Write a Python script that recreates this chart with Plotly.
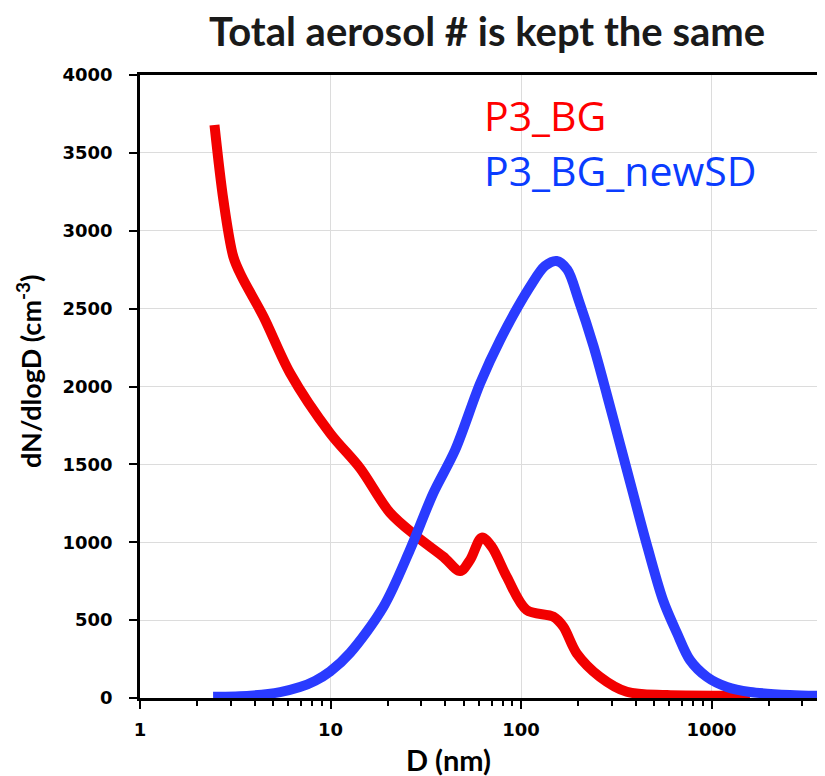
import plotly.graph_objects as go
import math

# P3_BG (red): diameter (nm) and dN/dlogD (cm-3)
bg_d = [2.46, 2.74, 3.09, 3.42, 4.45, 6.14, 9.95, 14.3, 20.5, 28.4, 39.1, 47.9, 54.0, 62.2,
        70.2, 84.1, 107, 147.6, 166.7, 196, 259, 359, 582, 1590]
bg_v = [3679, 3197, 2833, 2705, 2448, 2085, 1700, 1475, 1190, 1036, 907, 815, 886, 1030,
        971, 779, 565, 522, 458, 287, 137, 40, 19, 16]

# P3_BG_newSD (blue)
sd_d = [2.42, 3.78, 5.44, 6.91, 8.3, 9.95, 12.67, 18.97, 26.1, 34.6, 45.1, 61.0, 77.7, 111.5,
        133.6, 153.8, 175, 200, 240, 282.6, 330.7, 386.9, 447.3, 555.9, 658.3,
        770.2, 946, 1204, 1590, 2578, 3842]
sd_v = [8, 15, 38, 70, 110, 170, 290, 586, 950, 1314, 1592, 2020, 2299, 2641,
        2774, 2806, 2750, 2560, 2260, 1945, 1631, 1316, 1027, 629, 417,
        244, 135, 71, 39, 19, 13]

x_ticks = [1, 10, 100, 1000]
x_labels = ["1", "10", "100", "1000"]
y_ticks = [0, 500, 1000, 1500, 2000, 2500, 3000, 3500, 4000]

OFF = 8  # page body margin
W, H = 825 - OFF, 776 - OFF
L, R, T, B = 140 - OFF, 0, 75 - OFF, 776 - 698
pw, ph = W - L - R, H - T - B

def px(xp):
    return (xp - OFF - L) / pw

def py(yp):
    return (H - B - (yp - OFF)) / ph

fig = go.Figure()
fig.add_trace(go.Scatter(x=bg_d, y=bg_v, mode="lines",
                         line=dict(color="#f20000", width=10, shape="spline", smoothing=0.9),
                         name="P3_BG", showlegend=False))
fig.add_trace(go.Scatter(x=sd_d, y=sd_v, mode="lines",
                         line=dict(color="#2a3bff", width=10, shape="spline", smoothing=0.9),
                         name="P3_BG_newSD", showlegend=False))

tickfont = dict(family="DejaVu Sans", size=18, color="black", weight="bold")

fig.update_layout(
    width=W, height=H,
    margin=dict(l=L, r=R, t=T, b=B, autoexpand=False),
    paper_bgcolor="white", plot_bgcolor="white",
    xaxis=dict(type="log", range=[0, math.log10(3940)],
               tickvals=x_ticks, ticktext=x_labels, tickfont=tickfont,
               ticks="outside", ticklen=8, tickwidth=2, tickcolor="black",
               showline=True, linecolor="black", linewidth=2.5, mirror=True,
               showgrid=True, gridcolor="#dcdcdc", gridwidth=1.2,
               minor=dict(ticks="outside", ticklen=5, tickwidth=2, tickcolor="black",
                          dtick="D1", showgrid=False),
               zeroline=False, ticklabelstandoff=6),
    yaxis=dict(range=[0, 4000], tickvals=y_ticks, tickfont=tickfont,
               ticks="outside", ticklen=8, tickwidth=2, tickcolor="black",
               showline=True, linecolor="black", linewidth=2.5,
               showgrid=True, gridcolor="#dcdcdc", gridwidth=1.2, zeroline=False,
               ticklabelstandoff=13),
    annotations=[
        dict(text="<b>Total aerosol # is kept the same</b>", xref="paper", yref="paper",
             x=px(487), y=py(31), xanchor="center", yanchor="middle", showarrow=False,
             font=dict(family="Lato", size=40, color="#1a1a1a")),
        dict(text="<b>D (nm)</b>", xref="paper", yref="paper",
             x=px(448), y=py(759), xanchor="center", yanchor="middle", showarrow=False,
             font=dict(family="Lato", size=29, color="black")),
        dict(text="<b>dN/dlogD (cm<sup>-3</sup>)</b>", xref="paper", yref="paper",
             x=px(29), y=py(371), xanchor="center", yanchor="middle", showarrow=False,
             textangle=-90, font=dict(family="Lato", size=27, color="black")),
        dict(text="P3_BG", xref="paper", yref="paper",
             x=px(482), y=py(115), xanchor="left", yanchor="middle", showarrow=False,
             font=dict(family="Open Sans", size=41, color="#ff0000")),
        dict(text="P3_BG_newSD", xref="paper", yref="paper",
             x=px(482), y=py(170), xanchor="left", yanchor="middle", showarrow=False,
             font=dict(family="Open Sans", size=41, color="#0a3cff")),
    ],
)

fig.write_html("out.html")
